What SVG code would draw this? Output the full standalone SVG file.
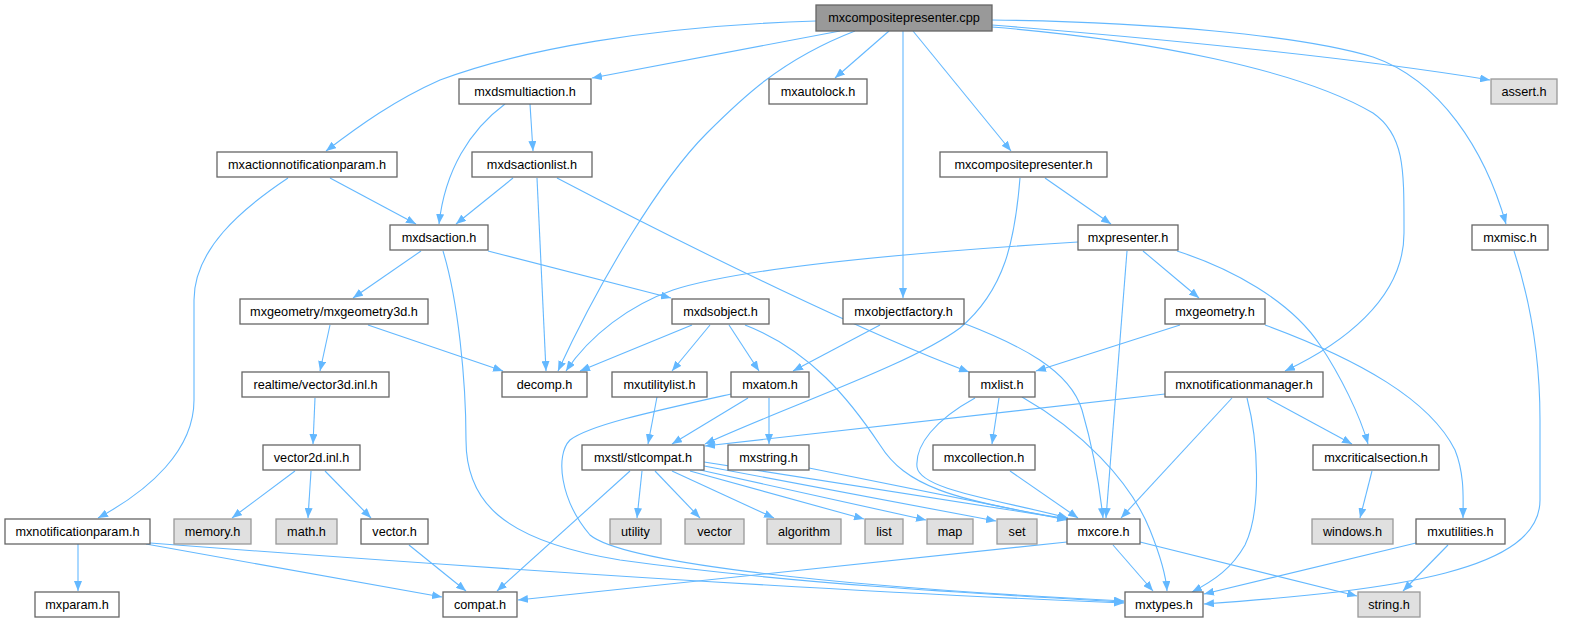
<svg xmlns="http://www.w3.org/2000/svg" width="1577" height="623" viewBox="0 0 1577 623">
<defs>
<marker id="a" markerWidth="10" markerHeight="8" refX="10" refY="4" orient="auto" markerUnits="userSpaceOnUse"><path d="M0,0 L10,4 L0,8 z" fill="#63b8ff"/></marker>
<style>
.n rect{fill:#ffffff;stroke:#666666;stroke-width:1.3}
.s rect{fill:#e0e0e0;stroke:#999999;stroke-width:1.3}
.r rect{fill:#999999;stroke:#666666;stroke-width:1.3}
text{font-family:"Liberation Sans",Arial,sans-serif;font-size:12.7px;fill:#000000;text-anchor:middle}
#edges path{fill:none;stroke:#63b8ff;stroke-width:1.1;marker-end:url(#a)}
</style>
</defs>
<rect width="1577" height="623" fill="#ffffff"/>
<g id="edges">
<path d="M816,21 C650,26 520,50 440,80 C395,100 360,125 326,151"/>
<path d="M840,31 L592,78"/>
<path d="M855,31 C780,60 740,100 707,133 C660,180 600,280 558,371"/>
<path d="M889,31 L835,78"/>
<path d="M903,31 L903,298"/>
<path d="M913,31 L1011,151"/>
<path d="M992,27 C1150,40 1300,70 1373,113 C1405,135 1404,170 1404,233 C1404,300 1340,345 1285,371"/>
<path d="M992,25 C1200,42 1380,62 1490,80"/>
<path d="M992,20 C1150,22 1300,35 1373,57 C1440,80 1485,150 1506,224"/>
<path d="M505,104 C470,130 445,170 439,224"/>
<path d="M530,104 L533,151"/>
<path d="M330,178 L416,224"/>
<path d="M288,178 C240,210 194,250 194,300 L194,400 C194,450 150,490 98,518"/>
<path d="M513,178 L456,224"/>
<path d="M537,178 L546,371"/>
<path d="M557,178 C700,253 870,335 969,372"/>
<path d="M1045,178 L1111,224"/>
<path d="M1020,178 C1015,240 1005,290 960,328 C910,365 790,405 705,444"/>
<path d="M421,251 L353,298"/>
<path d="M488,251 L671,298"/>
<path d="M443,251 C458,300 466,380 466,440 C466,500 500,540 620,560 C800,585 1000,595 1124,602"/>
<path d="M1078,242 C950,250 750,265 673,290 C630,305 590,335 566,371"/>
<path d="M1143,251 L1199,298"/>
<path d="M1127,251 L1106,518"/>
<path d="M1177,251 C1230,268 1290,300 1320,345 C1340,375 1360,415 1368,444"/>
<path d="M1514,251 C1530,300 1540,360 1540,420 L1540,500 C1540,570 1400,590 1204,604"/>
<path d="M330,325 L320,371"/>
<path d="M368,325 L503,371"/>
<path d="M692,325 L580,371"/>
<path d="M710,325 L672,371"/>
<path d="M729,325 L759,371"/>
<path d="M745,325 C810,350 850,400 880,445 C905,485 950,500 1068,519"/>
<path d="M880,325 L793,371"/>
<path d="M963,323 C1020,345 1070,370 1082,410 C1095,455 1100,490 1103,518"/>
<path d="M1180,325 L1036,371"/>
<path d="M1265,325 C1360,360 1430,400 1455,450 C1465,475 1463,500 1463,518"/>
<path d="M315,398 L313,444"/>
<path d="M657,397 L648,444"/>
<path d="M748,398 L672,444"/>
<path d="M769,398 L769,444"/>
<path d="M731,394 C650,412 590,425 570,440 C555,455 560,500 590,535 C620,560 800,585 1124,601"/>
<path d="M999,398 L992,444"/>
<path d="M975,398 C935,420 915,445 917,467 C920,490 1000,500 1068,518"/>
<path d="M1022,397 C1080,430 1130,480 1150,530 C1160,555 1166,575 1167,591"/>
<path d="M1165,394 L705,446"/>
<path d="M1232,398 L1121,518"/>
<path d="M1247,398 C1258,440 1262,510 1245,545 C1232,568 1215,580 1192,592"/>
<path d="M1267,398 L1352,444"/>
<path d="M295,471 L232,518"/>
<path d="M311,471 L308,518"/>
<path d="M325,471 L371,518"/>
<path d="M630,471 L497,591"/>
<path d="M642,471 L637,518"/>
<path d="M655,471 L700,518"/>
<path d="M672,471 L774,518"/>
<path d="M690,471 L864,519"/>
<path d="M700,470 L926,520"/>
<path d="M704,466 L996,521"/>
<path d="M704,462 L1067,519"/>
<path d="M809,468 L1067,520"/>
<path d="M1010,471 L1078,518"/>
<path d="M1372,471 L1360,518"/>
<path d="M78,544 L78,591"/>
<path d="M146,544 L442,597"/>
<path d="M150,543 C400,562 800,590 1124,603"/>
<path d="M409,545 L466,591"/>
<path d="M1067,542 L518,600"/>
<path d="M1113,545 L1153,591"/>
<path d="M1140,542 L1357,596"/>
<path d="M1416,543 L1204,594"/>
<path d="M1448,545 L1403,591"/>
</g>
<g id="n_cpp" class="r"><rect x="816" y="5" width="176" height="26"/><text x="904" y="22">mxcompositepresenter.cpp</text></g>
<g id="n_mxdsmultiaction" class="n"><rect x="459" y="79" width="132" height="25"/><text x="525" y="96">mxdsmultiaction.h</text></g>
<g id="n_mxautolock" class="n"><rect x="769" y="79" width="98" height="25"/><text x="818" y="96">mxautolock.h</text></g>
<g id="n_assert" class="s"><rect x="1491" y="79" width="66" height="25"/><text x="1524" y="96">assert.h</text></g>
<g id="n_mxactionnotificationparam" class="n"><rect x="217" y="152" width="180" height="25"/><text x="307" y="169">mxactionnotificationparam.h</text></g>
<g id="n_mxdsactionlist" class="n"><rect x="472" y="152" width="120" height="25"/><text x="532" y="169">mxdsactionlist.h</text></g>
<g id="n_mxcompositepresenter_h" class="n"><rect x="940" y="152" width="167" height="25"/><text x="1023.5" y="169">mxcompositepresenter.h</text></g>
<g id="n_mxdsaction" class="n"><rect x="390" y="225" width="98" height="25"/><text x="439" y="242">mxdsaction.h</text></g>
<g id="n_mxpresenter" class="n"><rect x="1078" y="225" width="100" height="25"/><text x="1128" y="242">mxpresenter.h</text></g>
<g id="n_mxmisc" class="n"><rect x="1472" y="225" width="76" height="25"/><text x="1510" y="242">mxmisc.h</text></g>
<g id="n_mxgeometry3d" class="n"><rect x="240" y="299" width="188" height="25"/><text x="334" y="316">mxgeometry/mxgeometry3d.h</text></g>
<g id="n_mxdsobject" class="n"><rect x="672" y="299" width="97" height="25"/><text x="720.5" y="316">mxdsobject.h</text></g>
<g id="n_mxobjectfactory" class="n"><rect x="843" y="299" width="121" height="25"/><text x="903.5" y="316">mxobjectfactory.h</text></g>
<g id="n_mxgeometry" class="n"><rect x="1165" y="299" width="100" height="25"/><text x="1215" y="316">mxgeometry.h</text></g>
<g id="n_vector3d" class="n"><rect x="242" y="372" width="147" height="25"/><text x="315.5" y="389">realtime/vector3d.inl.h</text></g>
<g id="n_decomp" class="n"><rect x="502" y="372" width="85" height="25"/><text x="544.5" y="389">decomp.h</text></g>
<g id="n_mxutilitylist" class="n"><rect x="612" y="372" width="95" height="25"/><text x="659.5" y="389">mxutilitylist.h</text></g>
<g id="n_mxatom" class="n"><rect x="731" y="372" width="78" height="25"/><text x="770" y="389">mxatom.h</text></g>
<g id="n_mxlist" class="n"><rect x="969" y="372" width="66" height="25"/><text x="1002" y="389">mxlist.h</text></g>
<g id="n_mxnotificationmanager" class="n"><rect x="1165" y="372" width="158" height="25"/><text x="1244" y="389">mxnotificationmanager.h</text></g>
<g id="n_vector2d" class="n"><rect x="263" y="445" width="97" height="25"/><text x="311.5" y="462">vector2d.inl.h</text></g>
<g id="n_stlcompat" class="n"><rect x="582" y="445" width="122" height="25"/><text x="643" y="462">mxstl/stlcompat.h</text></g>
<g id="n_mxstring" class="n"><rect x="728" y="445" width="81" height="25"/><text x="768.5" y="462">mxstring.h</text></g>
<g id="n_mxcollection" class="n"><rect x="933" y="445" width="102" height="25"/><text x="984" y="462">mxcollection.h</text></g>
<g id="n_mxcriticalsection" class="n"><rect x="1313" y="445" width="126" height="25"/><text x="1376" y="462">mxcriticalsection.h</text></g>
<g id="n_mxnotificationparam" class="n"><rect x="5" y="519" width="145" height="25"/><text x="77.5" y="536">mxnotificationparam.h</text></g>
<g id="n_memory" class="s"><rect x="174" y="519" width="77" height="25"/><text x="212.5" y="536">memory.h</text></g>
<g id="n_math" class="s"><rect x="276" y="519" width="61" height="25"/><text x="306.5" y="536">math.h</text></g>
<g id="n_vector_h" class="n"><rect x="361" y="519" width="67" height="25"/><text x="394.5" y="536">vector.h</text></g>
<g id="n_utility" class="s"><rect x="610" y="519" width="51" height="25"/><text x="635.5" y="536">utility</text></g>
<g id="n_vector" class="s"><rect x="685" y="519" width="59" height="25"/><text x="714.5" y="536">vector</text></g>
<g id="n_algorithm" class="s"><rect x="767" y="519" width="74" height="25"/><text x="804" y="536">algorithm</text></g>
<g id="n_list" class="s"><rect x="865" y="519" width="38" height="25"/><text x="884" y="536">list</text></g>
<g id="n_map" class="s"><rect x="927" y="519" width="46" height="25"/><text x="950" y="536">map</text></g>
<g id="n_set" class="s"><rect x="997" y="519" width="40" height="25"/><text x="1017" y="536">set</text></g>
<g id="n_mxcore" class="n"><rect x="1067" y="519" width="73" height="25"/><text x="1103.5" y="536">mxcore.h</text></g>
<g id="n_windows" class="s"><rect x="1312" y="519" width="81" height="25"/><text x="1352.5" y="536">windows.h</text></g>
<g id="n_mxutilities" class="n"><rect x="1416" y="519" width="89" height="25"/><text x="1460.5" y="536">mxutilities.h</text></g>
<g id="n_mxparam" class="n"><rect x="35" y="592" width="84" height="25"/><text x="77" y="609">mxparam.h</text></g>
<g id="n_compat" class="n"><rect x="443" y="592" width="74" height="25"/><text x="480" y="609">compat.h</text></g>
<g id="n_mxtypes" class="n"><rect x="1125" y="592" width="78" height="25"/><text x="1164" y="609">mxtypes.h</text></g>
<g id="n_string" class="s"><rect x="1358" y="592" width="62" height="25"/><text x="1389" y="609">string.h</text></g>
</svg>
